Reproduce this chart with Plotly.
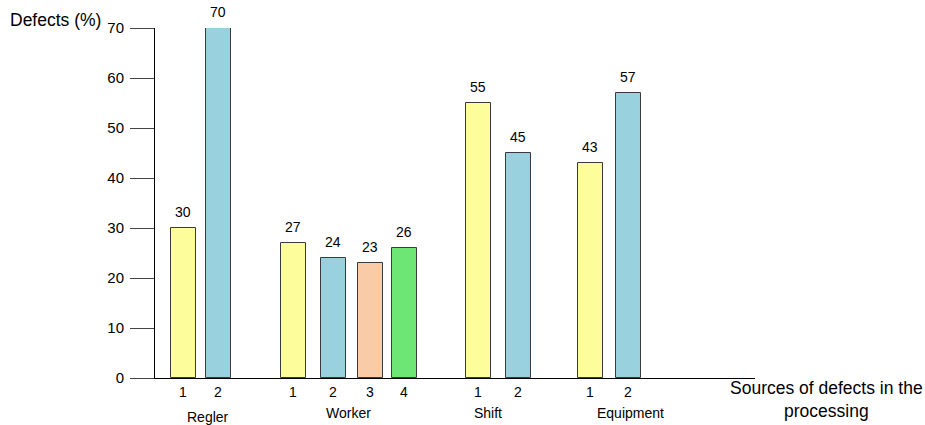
import plotly.graph_objects as go

# Defect shares (%) per source of defects, grouped
groups = ["Regler", "Worker", "Shift", "Equipment"]
members = [["1", "2"], ["1", "2", "3", "4"], ["1", "2"], ["1", "2"]]
values = [[30, 70], [27, 24, 23, 26], [55, 45], [43, 57]]
y_ticks = [0, 10, 20, 30, 40, 50, 60, 70]

# Fill colour by member index inside a group
palette = ["#FDFD9B", "#99D1DE", "#F9CBA7", "#6EE675"]

# Horizontal layout in axis units (axis spans 0..600)
bar_x = [[28, 63], [138, 178, 215, 249], [323, 363], [435, 473]]
group_label_x = [53, 193, 333, 475]
group_label_shift = [-39, -35, -35, -35]
bar_w = 25

fig = go.Figure()
tickvals, ticktext = [], []
for g, name in enumerate(groups):
    xs = bar_x[g]
    fig.add_trace(go.Bar(
        x=xs, y=values[g], width=bar_w,
        marker=dict(color=palette[:len(xs)], line=dict(color="#3a3a3a", width=1)),
        showlegend=False, hoverinfo="x+y",
    ))
    for x, v in zip(xs, values[g]):
        fig.add_annotation(x=x, y=v, text=str(v), showarrow=False,
                           yanchor="bottom", yshift=6,
                           font=dict(size=14, color="#000"))
    tickvals += xs
    ticktext += members[g]
    fig.add_annotation(x=group_label_x[g], y=0, text=name, showarrow=False,
                       yanchor="middle", yshift=group_label_shift[g],
                       font=dict(size=14, color="#000"))

# Axis titles as free text
fig.add_annotation(x=1.0, y=0, xref="paper", yref="paper", xanchor="left", yanchor="top",
                   xshift=-27, yshift=2, align="center",
                   text="Sources of defects in the<br>processing", showarrow=False,
                   font=dict(size=17.5, color="#000"))
fig.add_annotation(x=0, y=1, xref="paper", yref="paper", xanchor="right", yanchor="middle",
                   xshift=-52, yshift=8, text="Defects (%)", showarrow=False,
                   font=dict(size=17.5, color="#000"))

fig.update_layout(
    width=925, height=425,
    margin=dict(l=155, r=170, t=28, b=47),
    paper_bgcolor="white", plot_bgcolor="white",
    font=dict(family="Liberation Sans, Arial, sans-serif", color="#000"),
    bargap=0,
    xaxis=dict(range=[0, 600], showgrid=False, zeroline=False, showline=True,
               linecolor="#000", linewidth=1, tickvals=tickvals, ticktext=ticktext,
               ticks="", tickfont=dict(size=14), ticklabelstandoff=1),
    yaxis=dict(range=[0, 70], showgrid=False, zeroline=False, showline=True,
               linecolor="#000", linewidth=1, tickvals=y_ticks, ticks="outside",
               ticklen=24, tickcolor="#444", tickfont=dict(size=15), ticklabelstandoff=3),
)

fig.write_html("out.html")
